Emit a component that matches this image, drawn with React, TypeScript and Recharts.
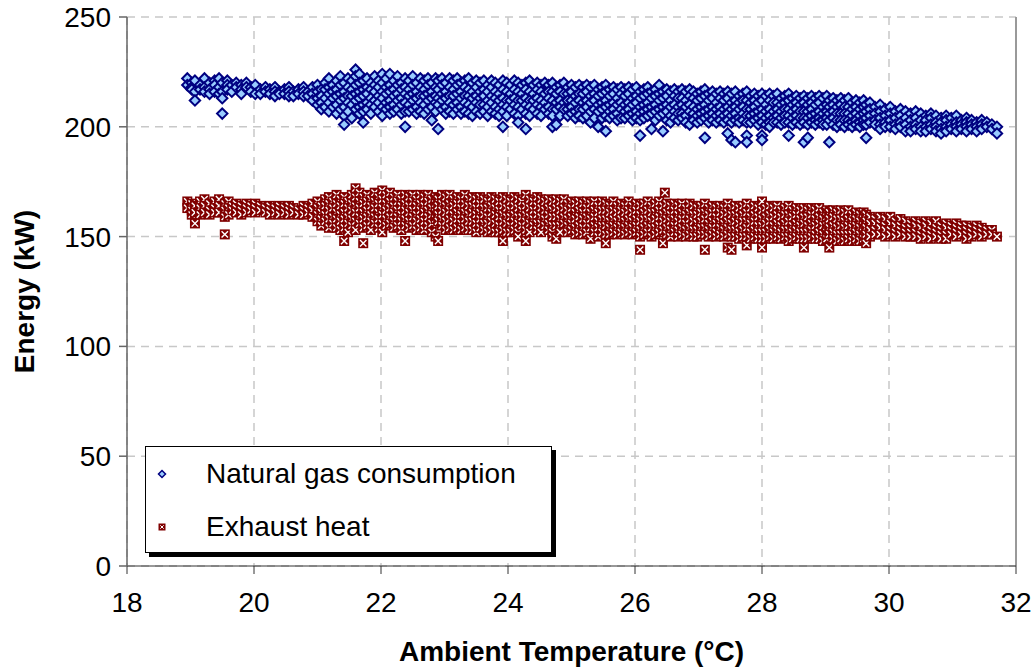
import { ScatterChart, Scatter, XAxis, YAxis, CartesianGrid, Legend, ReferenceLine } from "recharts";

// each row: [temperature, ...energy readings at that temperature]
const gasRows: number[][] = [
  [18.95, 222, 219], [19.02, 220, 218, 217], [19.07, 221, 216, 212], [19.15, 219, 217],
  [19.22, 222, 218, 216], [19.3, 220, 217, 215], [19.38, 221, 219, 216], [19.45, 222, 218, 215],
  [19.5, 220, 216, 213, 206], [19.58, 221, 219, 217], [19.65, 219, 216], [19.72, 220, 218],
  [19.8, 219, 217, 215], [19.88, 220, 218], [19.95, 218, 216], [20.02, 219, 215],
  [20.1, 217, 215], [20.18, 218, 216], [20.25, 217, 215], [20.33, 218, 216, 214],
  [20.4, 216, 215], [20.48, 217, 215], [20.55, 218, 216, 214], [20.62, 216, 214],
  [20.7, 217, 215], [20.78, 218, 216, 214], [20.85, 216, 214], [20.92, 218, 215, 212],
  [21.0, 219, 216, 213, 210], [21.06, 217, 214, 211, 208], [21.12, 220, 217, 213, 209],
  [21.18, 222, 218, 215, 211, 207], [21.24, 219, 216, 213, 209], [21.3, 221, 217, 214, 210, 206],
  [21.36, 223, 219, 215, 212, 208], [21.42, 220, 216, 213, 209, 205, 201], [21.48, 222, 218, 214, 211, 207],
  [21.54, 221, 217, 214, 210, 204], [21.6, 226, 223, 219, 215, 212, 208], [21.66, 224, 220, 216, 213, 209, 206],
  [21.72, 221, 217, 214, 210, 207, 202], [21.78, 222, 218, 215, 211, 208], [21.84, 220, 217, 213, 210, 206],
  [21.9, 223, 219, 216, 212, 209], [21.96, 221, 218, 214, 211, 207], [22.02, 224, 220, 216, 213, 209, 205],
  [22.08, 222, 218, 215, 211, 208], [22.14, 224, 219, 216, 212, 209, 206], [22.2, 221, 217, 214, 210, 207],
  [22.26, 223, 219, 215, 212, 208], [22.32, 220, 217, 213, 210, 206], [22.38, 222, 218, 215, 211, 207, 200],
  [22.44, 221, 217, 214, 210, 207], [22.5, 223, 219, 215, 212, 208], [22.56, 220, 216, 213, 209, 206],
  [22.62, 222, 218, 214, 211, 207], [22.68, 221, 217, 214, 210, 206], [22.74, 222, 219, 215, 212, 208],
  [22.8, 220, 216, 213, 209, 203], [22.86, 222, 218, 214, 211, 207], [22.9, 221, 217, 213, 210, 199],
  [22.96, 222, 219, 215, 212, 208], [23.02, 220, 216, 213, 209, 206], [23.08, 222, 218, 214, 211, 207],
  [23.14, 221, 217, 214, 210, 206], [23.2, 222, 219, 215, 211, 208], [23.26, 220, 216, 213, 209, 206],
  [23.32, 221, 218, 214, 211, 207], [23.38, 222, 217, 214, 210, 206], [23.44, 220, 216, 213, 209, 205],
  [23.5, 221, 218, 214, 211, 207], [23.56, 220, 216, 213, 210, 206], [23.62, 221, 217, 214, 210, 207],
  [23.68, 219, 216, 212, 209, 205], [23.74, 221, 218, 214, 211, 207], [23.8, 220, 216, 213, 209, 206],
  [23.86, 219, 215, 212, 208, 205], [23.92, 221, 217, 213, 210, 207, 200], [23.98, 220, 216, 212, 209, 205],
  [24.04, 219, 215, 212, 208], [24.1, 221, 217, 213, 210, 206], [24.16, 220, 216, 212, 209, 205, 202],
  [24.22, 219, 215, 212, 208], [24.28, 220, 217, 213, 210, 206, 199], [24.34, 221, 216, 212, 209, 205],
  [24.4, 219, 215, 212, 208], [24.46, 220, 217, 213, 210, 206], [24.52, 219, 216, 212, 209, 205],
  [24.58, 220, 215, 211, 208], [24.64, 219, 216, 213, 209, 206], [24.7, 220, 216, 212, 208, 205, 200],
  [24.76, 218, 215, 211, 208, 201], [24.82, 219, 216, 212, 209, 205], [24.88, 220, 215, 211, 208],
  [24.94, 218, 215, 212, 208, 205], [25.0, 219, 216, 212, 209, 206], [25.06, 218, 214, 211, 207, 204],
  [25.12, 219, 215, 212, 208, 205], [25.18, 218, 215, 211, 208, 204], [25.24, 219, 216, 212, 209, 205],
  [25.3, 218, 214, 211, 207, 202], [25.36, 219, 215, 212, 208, 204], [25.42, 217, 214, 210, 207, 200],
  [25.48, 218, 215, 211, 208, 204], [25.54, 219, 216, 212, 209, 205, 198], [25.6, 217, 214, 210, 207, 204],
  [25.66, 218, 215, 211, 208, 205], [25.72, 217, 213, 210, 206, 203], [25.78, 218, 215, 211, 208, 204],
  [25.84, 217, 214, 210, 207, 204], [25.9, 218, 215, 211, 208, 205], [25.96, 217, 213, 210, 206, 203],
  [26.02, 218, 214, 211, 207, 204], [26.08, 216, 213, 209, 206, 203, 196], [26.14, 217, 214, 210, 207, 204],
  [26.2, 218, 215, 211, 208, 205], [26.26, 216, 213, 209, 206, 199], [26.32, 217, 214, 210, 207, 203],
  [26.38, 219, 215, 212, 208, 205], [26.44, 216, 213, 209, 206, 198], [26.5, 217, 214, 210, 207, 203],
  [26.56, 216, 212, 209, 205, 202], [26.62, 217, 214, 210, 207, 204], [26.68, 216, 213, 209, 206, 203],
  [26.74, 217, 213, 210, 206, 204], [26.8, 216, 212, 209, 205, 202], [26.86, 217, 214, 210, 207, 201],
  [26.92, 216, 213, 209, 206, 203], [26.98, 215, 212, 208, 205, 202], [27.04, 216, 213, 209, 206, 203],
  [27.1, 217, 214, 210, 207, 204, 195], [27.16, 215, 212, 208, 205, 202], [27.22, 216, 213, 209, 206, 203],
  [27.28, 215, 211, 208, 205, 202], [27.34, 216, 213, 209, 206, 203], [27.4, 215, 212, 208, 205, 202],
  [27.46, 216, 213, 209, 206, 203, 197], [27.52, 215, 211, 208, 205, 202, 194], [27.58, 216, 212, 209, 206, 203, 193],
  [27.64, 214, 211, 208, 204, 202], [27.7, 215, 212, 209, 206, 203], [27.76, 216, 212, 208, 205, 202, 196, 193],
  [27.82, 214, 211, 208, 205, 202], [27.88, 215, 212, 209, 206, 203], [27.94, 214, 211, 207, 204, 201],
  [28.0, 215, 212, 208, 205, 202, 196, 194], [28.06, 214, 210, 207, 204, 201], [28.12, 215, 212, 208, 205, 202, 200],
  [28.18, 214, 211, 207, 204, 202], [28.24, 215, 211, 208, 205, 202], [28.3, 213, 210, 207, 204, 201],
  [28.36, 214, 211, 208, 205, 202], [28.42, 215, 212, 208, 205, 202, 196], [28.48, 213, 210, 207, 204, 201],
  [28.54, 214, 211, 208, 205, 202], [28.6, 213, 210, 207, 204, 201], [28.66, 214, 211, 207, 204, 202, 193],
  [28.72, 213, 210, 207, 204, 201, 195], [28.78, 214, 211, 208, 205, 202], [28.84, 213, 210, 206, 203, 201],
  [28.9, 214, 211, 207, 204, 202], [28.96, 213, 209, 206, 203, 201], [29.02, 214, 210, 207, 204, 201],
  [29.06, 212, 209, 206, 203, 193], [29.12, 213, 210, 207, 204, 201], [29.18, 212, 209, 206, 203, 200],
  [29.24, 213, 210, 206, 203, 201], [29.3, 212, 209, 206, 203, 200], [29.36, 213, 209, 206, 203, 201],
  [29.42, 211, 208, 205, 202, 200], [29.48, 212, 209, 206, 203, 201], [29.54, 211, 208, 205, 202, 200],
  [29.6, 212, 209, 206, 203, 201], [29.64, 210, 207, 204, 201, 195], [29.7, 211, 208, 205, 202],
  [29.78, 209, 206, 203, 201], [29.86, 210, 207, 204, 201, 199], [29.94, 208, 205, 202, 200],
  [30.02, 209, 206, 203, 200], [30.1, 207, 204, 201, 199], [30.18, 208, 205, 202, 200],
  [30.26, 207, 204, 201, 198], [30.34, 206, 203, 200, 198], [30.42, 207, 204, 201, 199],
  [30.5, 206, 203, 200, 198], [30.58, 205, 203, 200, 198], [30.66, 206, 204, 201, 199],
  [30.74, 205, 202, 200, 198], [30.82, 204, 202, 199, 197], [30.9, 205, 203, 200, 198],
  [30.98, 204, 201, 199], [31.06, 205, 202, 200, 198], [31.14, 203, 201, 199],
  [31.22, 204, 202, 200, 198], [31.3, 203, 201, 199], [31.38, 202, 200, 198],
  [31.46, 203, 201, 199], [31.54, 202, 200], [31.62, 201, 199], [31.7, 200, 197],
];

const exhaustRows: number[][] = [
  [18.95, 166, 163], [19.02, 165, 162, 160], [19.07, 164, 161, 156], [19.15, 166, 163, 160],
  [19.22, 167, 164, 161], [19.3, 165, 162, 160], [19.38, 166, 163, 161], [19.45, 167, 164, 161],
  [19.54, 165, 162, 159, 151], [19.6, 166, 163, 160], [19.66, 164, 162], [19.72, 165, 163, 161],
  [19.8, 164, 162, 160], [19.88, 165, 163, 161], [19.95, 164, 162], [20.02, 165, 163, 161],
  [20.1, 164, 162], [20.18, 163, 161], [20.25, 164, 162, 160], [20.33, 163, 161],
  [20.4, 164, 162, 160], [20.48, 163, 161], [20.55, 164, 162, 160], [20.62, 163, 161],
  [20.7, 162, 160], [20.78, 164, 162, 160], [20.85, 163, 161], [20.92, 165, 162, 159],
  [21.0, 166, 163, 160, 157], [21.06, 164, 161, 158, 155], [21.12, 167, 164, 160, 157],
  [21.18, 168, 165, 162, 158, 154], [21.24, 166, 163, 159, 156], [21.3, 169, 165, 161, 158, 154],
  [21.36, 167, 164, 160, 157, 153], [21.42, 168, 165, 161, 158, 154, 148], [21.48, 166, 163, 159, 156, 152],
  [21.54, 169, 165, 162, 158, 155], [21.6, 172, 168, 164, 161, 157, 153], [21.66, 170, 166, 163, 159, 156],
  [21.72, 168, 165, 161, 158, 154, 147], [21.78, 169, 166, 162, 159, 155], [21.84, 167, 164, 160, 157, 153],
  [21.9, 170, 166, 163, 159, 156], [21.96, 168, 165, 161, 158, 154], [22.02, 171, 167, 163, 160, 156, 152],
  [22.08, 169, 165, 162, 158, 155], [22.14, 170, 166, 163, 159, 156], [22.2, 168, 164, 161, 157, 154],
  [22.26, 169, 166, 162, 159, 155], [22.32, 167, 164, 160, 157, 153], [22.38, 169, 165, 162, 158, 155, 148],
  [22.44, 168, 164, 161, 157, 154], [22.5, 169, 166, 162, 159, 155], [22.56, 167, 164, 160, 157, 153],
  [22.62, 169, 165, 162, 158, 154], [22.68, 168, 164, 161, 157, 153], [22.74, 169, 166, 162, 159, 155],
  [22.8, 167, 163, 160, 156, 152], [22.86, 168, 165, 161, 158, 150], [22.9, 167, 164, 160, 157, 148],
  [22.96, 169, 165, 162, 158, 155], [23.02, 168, 164, 161, 157, 153], [23.08, 169, 165, 162, 158, 154],
  [23.14, 167, 164, 160, 157, 153], [23.2, 168, 165, 161, 158, 154], [23.26, 167, 163, 160, 156, 153],
  [23.32, 169, 165, 161, 158, 154], [23.38, 167, 164, 160, 157, 153], [23.44, 168, 164, 161, 157, 153],
  [23.5, 167, 163, 160, 156, 152], [23.56, 168, 165, 161, 158, 154], [23.62, 167, 163, 160, 156, 153],
  [23.68, 166, 163, 159, 156, 152], [23.74, 168, 164, 161, 157, 153], [23.8, 167, 163, 160, 156, 152],
  [23.86, 166, 162, 159, 155, 152], [23.92, 168, 164, 160, 157, 153, 148], [23.98, 167, 163, 159, 156, 152],
  [24.04, 166, 162, 159, 155, 152], [24.1, 168, 164, 160, 157, 153], [24.16, 167, 163, 159, 156, 152, 150],
  [24.22, 166, 162, 159, 155], [24.28, 169, 164, 160, 157, 153, 148], [24.34, 167, 163, 159, 156, 152],
  [24.4, 166, 162, 158, 155], [24.46, 168, 164, 160, 156, 153], [24.52, 167, 163, 159, 156, 152],
  [24.58, 166, 162, 158, 155], [24.64, 167, 163, 160, 156, 153], [24.7, 166, 162, 159, 155, 152, 150],
  [24.76, 167, 163, 159, 155, 149], [24.82, 166, 162, 158, 155, 152], [24.88, 167, 163, 159, 156],
  [24.94, 165, 162, 158, 155, 152], [25.0, 166, 163, 159, 156, 153], [25.06, 165, 161, 158, 154, 151],
  [25.12, 166, 162, 159, 155, 152], [25.18, 165, 161, 158, 154, 151], [25.24, 166, 163, 159, 156, 152],
  [25.3, 165, 161, 158, 154, 149], [25.36, 166, 162, 159, 155, 152], [25.42, 164, 161, 157, 154, 150],
  [25.48, 166, 162, 158, 155, 152], [25.54, 165, 162, 158, 155, 151, 147], [25.6, 164, 161, 157, 154, 151],
  [25.66, 166, 162, 158, 155, 152], [25.72, 164, 161, 157, 154, 151], [25.78, 165, 162, 158, 155, 152],
  [25.84, 164, 161, 157, 154, 151], [25.9, 166, 162, 158, 155, 152], [25.96, 164, 161, 157, 154, 151],
  [26.02, 165, 162, 158, 155, 152], [26.08, 164, 160, 157, 153, 150, 144], [26.14, 165, 161, 158, 154, 151],
  [26.2, 166, 162, 158, 155, 152], [26.26, 164, 161, 157, 154, 150], [26.32, 165, 161, 158, 154, 151],
  [26.38, 166, 162, 159, 155, 152], [26.44, 164, 160, 157, 153, 147], [26.47, 170],
  [26.5, 165, 161, 158, 154, 151], [26.56, 164, 160, 157, 153, 150], [26.62, 165, 162, 158, 155, 152],
  [26.68, 164, 160, 157, 153, 150], [26.74, 165, 161, 158, 154, 151], [26.8, 163, 160, 156, 153, 150],
  [26.86, 165, 161, 158, 154, 151], [26.92, 164, 160, 157, 153, 150], [26.98, 163, 160, 156, 153, 150],
  [27.04, 164, 161, 157, 154, 151], [27.1, 165, 161, 158, 154, 151, 144], [27.16, 163, 160, 156, 153, 150],
  [27.22, 164, 161, 157, 154, 151], [27.28, 163, 159, 156, 152, 150], [27.34, 164, 161, 157, 154, 151],
  [27.4, 163, 160, 156, 153, 150], [27.46, 165, 161, 157, 154, 151, 145], [27.52, 163, 160, 156, 153, 150, 144],
  [27.58, 164, 160, 157, 153, 150], [27.64, 163, 159, 156, 152, 149], [27.7, 164, 160, 157, 153, 150],
  [27.76, 165, 161, 157, 154, 150, 146], [27.82, 163, 159, 156, 152, 149], [27.88, 164, 160, 157, 153, 150],
  [27.94, 163, 159, 155, 152, 149], [28.0, 166, 162, 158, 155, 152, 149, 145], [28.06, 163, 159, 156, 152, 149],
  [28.12, 164, 160, 157, 153, 150], [28.18, 163, 159, 155, 152, 149], [28.24, 164, 160, 156, 153, 150],
  [28.3, 162, 159, 155, 152, 149], [28.36, 163, 160, 156, 153, 150], [28.42, 164, 160, 157, 153, 150, 148],
  [28.48, 162, 159, 155, 152, 149], [28.54, 163, 160, 156, 153, 150], [28.6, 162, 158, 155, 152, 149],
  [28.66, 163, 159, 156, 152, 149, 145], [28.72, 162, 159, 155, 152, 149], [28.78, 163, 160, 156, 153, 150],
  [28.84, 162, 158, 155, 151, 149], [28.9, 163, 159, 156, 152, 149], [28.96, 161, 158, 155, 151, 148],
  [29.02, 162, 159, 155, 152, 149], [29.06, 161, 158, 154, 151, 145], [29.12, 162, 159, 155, 152, 149],
  [29.18, 161, 158, 154, 151, 148], [29.24, 162, 158, 155, 151, 149], [29.3, 161, 157, 154, 151, 148],
  [29.36, 162, 158, 155, 151, 149], [29.42, 160, 157, 154, 151, 148], [29.48, 161, 158, 155, 152, 149],
  [29.54, 160, 157, 154, 151, 148], [29.6, 161, 158, 155, 152, 149], [29.64, 160, 157, 154, 151, 147],
  [29.7, 159, 156, 153, 150], [29.78, 158, 156, 153, 151], [29.86, 159, 156, 154, 151],
  [29.94, 158, 155, 153, 150], [30.02, 159, 156, 153, 151], [30.1, 157, 155, 152, 150],
  [30.18, 158, 155, 153, 151], [30.26, 157, 154, 152, 150], [30.34, 156, 154, 152, 150],
  [30.42, 157, 155, 152, 150], [30.5, 156, 154, 151, 149], [30.58, 157, 155, 152, 150],
  [30.66, 156, 153, 151, 149], [30.74, 157, 154, 152, 150], [30.82, 155, 153, 151, 149],
  [30.9, 156, 154, 151, 149], [30.98, 155, 153, 151], [31.06, 156, 154, 152, 150],
  [31.14, 155, 153, 151], [31.22, 155, 153, 151, 149], [31.3, 154, 152, 150],
  [31.38, 155, 153, 151], [31.46, 154, 152, 150], [31.54, 153, 151], [31.62, 153, 151], [31.7, 150],
];

const xTicks = [18, 20, 22, 24, 26, 28, 30, 32];
const yTicks = [0, 50, 100, 150, 200, 250];

const toPoints = (rows: number[][]) => rows.flatMap(([x, ...ys]) => ys.map((y) => ({ x, y })));
const gasData = toPoints(gasRows);
const exhaustData = toPoints(exhaustRows);

const FONT = "'Liberation Sans', Arial, sans-serif";

const Diamond = ({ cx, cy, r = 5.2, sw = 2 }: any) => (
  <path
    d={`M${cx},${cy - r}L${cx + r},${cy}L${cx},${cy + r}L${cx - r},${cy}Z`}
    fill="#99CCFF"
    stroke="#000080"
    strokeWidth={sw}
  />
);

const CrossSquare = ({ cx, cy, r = 5, sw = 1.4 }: any) => (
  <g>
    <rect x={cx - r} y={cy - r} width={r * 2} height={r * 2} fill="#800000" />
    <path
      d={`M${cx - r + 1.8},${cy - r + 1.8}L${cx + r - 1.8},${cy + r - 1.8}M${cx + r - 1.8},${cy - r + 1.8}L${cx - r + 1.8},${cy + r - 1.8}`}
      stroke="#fff"
      strokeWidth={sw}
    />
  </g>
);

function LegendBox() {
  const row = { display: "flex", alignItems: "center", height: 53 };
  return (
    <div
      style={{
        width: 405,
        height: 105,
        background: "#fff",
        border: "1px solid #000",
        boxShadow: "4px 4px 0 #000",
        fontFamily: FONT,
        fontSize: 28,
        color: "#000",
      }}
    >
      <div style={row}>
        <svg width={60} height={20}>
          <Diamond cx={16} cy={10} r={3.5} sw={1.5} />
        </svg>
        <span>Natural gas consumption</span>
      </div>
      <div style={row}>
        <svg width={60} height={20}>
          <CrossSquare cx={16} cy={10} r={3.5} sw={1} />
        </svg>
        <span>Exhaust heat</span>
      </div>
    </div>
  );
}

export default function App() {
  return (
    <div style={{ width: 1036, height: 670, background: "#fff" }}>
      <style>{`body{margin:0}`}</style>
      <ScatterChart width={1036} height={670} margin={{ top: 17, right: 20, bottom: 0, left: 0 }}>
        <CartesianGrid stroke="#c8c8c8" strokeDasharray="8 6" strokeWidth={1.5} />
        <XAxis
          type="number"
          dataKey="x"
          domain={[18, 32]}
          ticks={xTicks}
          height={104}
          stroke="#333"
          tickSize={8}
          tick={{ fill: "#000", fontSize: 28, fontFamily: FONT }}
          tickMargin={18}
          label={{
            value: "Ambient Temperature (°C)",
            position: "insideBottom",
            offset: 9,
            style: { fill: "#000", fontSize: 28, fontWeight: "bold", fontFamily: FONT },
          }}
        />
        <YAxis
          type="number"
          dataKey="y"
          domain={[0, 250]}
          ticks={yTicks}
          width={127}
          stroke="#666"
          strokeWidth={1.5}
          tickSize={8}
          tick={{ fill: "#000", fontSize: 28, fontFamily: FONT }}
          tickMargin={8}
          label={{
            value: "Energy (kW)",
            angle: -90,
            position: "insideLeft",
            offset: 24,
            style: { textAnchor: "middle", fill: "#000", fontSize: 28, fontWeight: "bold", fontFamily: FONT },
          }}
        />
        <ReferenceLine x={32} stroke="#999" strokeWidth={2} />
        <Scatter
          name="Exhaust heat"
          data={exhaustData}
          shape={(p: any) => <CrossSquare cx={p.cx} cy={p.cy} />}
          isAnimationActive={false}
        />
        <Scatter
          name="Natural gas consumption"
          data={gasData}
          shape={(p: any) => <Diamond cx={p.cx} cy={p.cy} />}
          isAnimationActive={false}
        />
        <Legend
          layout="vertical"
          align="center"
          verticalAlign="middle"
          wrapperStyle={{ left: 145, top: 446, width: 407, height: 107 }}
          content={() => <LegendBox />}
        />
      </ScatterChart>
    </div>
  );
}
